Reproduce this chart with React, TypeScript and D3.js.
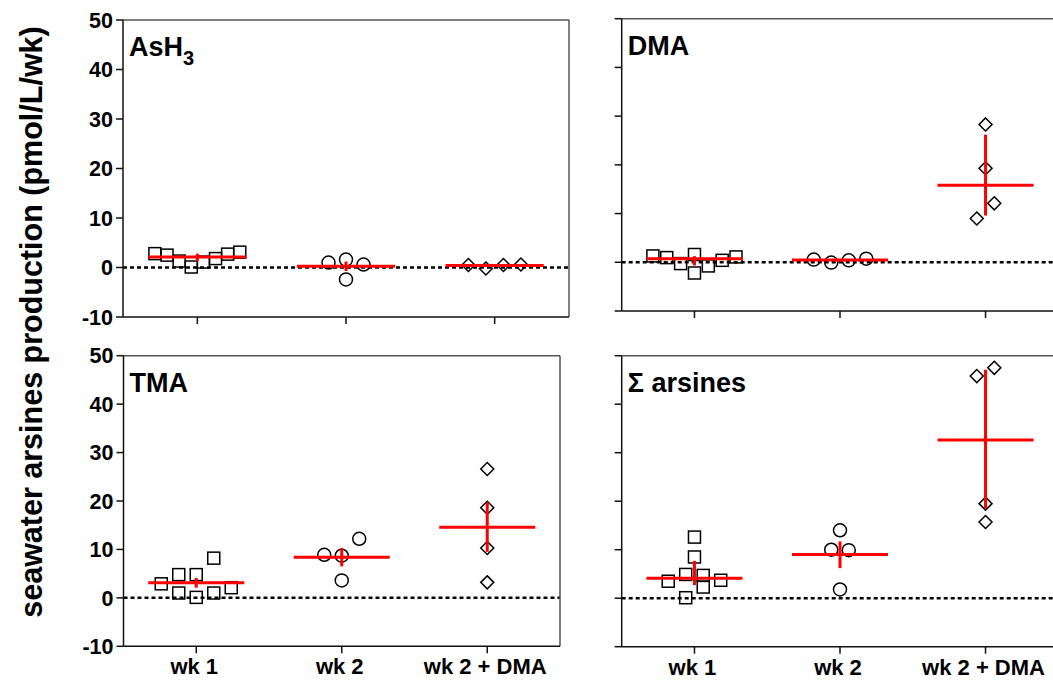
import React from 'react';
import * as d3 from 'd3';

// categories and axis ticks
const categories = ['wk 1', 'wk 2', 'wk 2 + DMA'];
const yTicks = [50, 40, 30, 20, 10, 0, -10];

// AsH3 panel
const ash3Wk1 = [2.8, 2.5, 1.3, 0.1, 1.1, 1.8, 2.7, 3.1];
const ash3Wk2 = [1.0, 1.6, -2.4, 0.6];
const ash3Wk2Dma = [0.5, -0.2, 0.5, 0.6];
const ash3Center = [2.1, 0.25, 0.4];
const ash3Low = [1.3, -0.7, 0.2];
const ash3High = [2.8, 1.2, 0.6];

// DMA panel
const dmaWk1 = [1.3, 0.96, -0.27, 1.6, -2.2, -0.75, 0.4, 1.1];
const dmaWk2 = [0.55, -0.07, 0.4, 0.75];
const dmaWk2Dma = [28.3, 19.3, 9.0, 12.1];
const dmaCenter = [0.7, 0.45, 15.8];
const dmaLow = [-0.65, 0.05, 9.6];
const dmaHigh = [1.25, 0.7, 26.2];

// TMA panel
const tmaWk1 = [2.9, 4.8, 1.0, 4.8, 0.1, 8.2, 1.0, 2.1];
const tmaWk2 = [8.9, 8.7, 12.2, 3.6];
const tmaWk2Dma = [26.6, 18.6, 10.3, 3.2];
const tmaCenter = [3.1, 8.4, 14.6];
const tmaLow = [2.1, 6.5, 9.5];
const tmaHigh = [4.1, 10.3, 19.7];

// sum of arsines panel
const sumWk1 = [3.5, 4.9, 0.1, 12.6, 8.5, 2.3, 4.7, 3.7];
const sumWk2 = [14.0, 10.0, 9.9, 1.8];
const sumWk2Dma = [45.8, 47.5, 19.5, 15.7];
const sumCenter = [4.1, 9.0, 32.6];
const sumLow = [2.7, 6.2, 18.5];
const sumHigh = [7.7, 11.7, 47.1];

const FONT = '"Liberation Sans", Arial, Helvetica, sans-serif';

const panels = [
  { title: 'AsH', sub: '3', groups: [ash3Wk1, ash3Wk2, ash3Wk2Dma], center: ash3Center, low: ash3Low, high: ash3High,
    x0: 123, x1: 569, y0: 20, y1: 317, yLabels: true, xLabels: false, frameRight: true },
  { title: 'DMA', sub: '', groups: [dmaWk1, dmaWk2, dmaWk2Dma], center: dmaCenter, low: dmaLow, high: dmaHigh,
    x0: 621.7, x1: 1058.3, y0: 18.7, y1: 311, yLabels: false, xLabels: false, frameRight: false },
  { title: 'TMA', sub: '', groups: [tmaWk1, tmaWk2, tmaWk2Dma], center: tmaCenter, low: tmaLow, high: tmaHigh,
    x0: 123.5, x1: 560, y0: 355.7, y1: 646.3, yLabels: true, xLabels: true, frameRight: true },
  { title: 'Σ arsines', sub: '', groups: [sumWk1, sumWk2, sumWk2Dma], center: sumCenter, low: sumLow, high: sumHigh,
    x0: 621.7, x1: 1058.3, y0: 355.7, y1: 646.7, yLabels: false, xLabels: true, frameRight: false },
];

// prism-like column scatter: rows of close values spread side by side
function swarm(values, y, cx) {
  const order = values.map((_, i) => i).sort((a, b) => values[a] - values[b]);
  const rows = [];
  let cur = [];
  let start = 0;
  for (const i of order) {
    const py = y(values[i]);
    if (cur.length && Math.abs(py - start) < 17.8) cur.push(i);
    else {
      if (cur.length) rows.push(cur);
      cur = [i];
      start = py;
    }
  }
  if (cur.length) rows.push(cur);
  const xs = new Array(values.length);
  rows.forEach(r => {
    r.sort((a, b) => a - b);
    const n = r.length;
    const step = Math.min(17.5, 97 / n);
    r.forEach((i, k) => { xs[i] = cx + (k - (n - 1) / 2) * step; });
  });
  return xs;
}

function Marker({ kind, x, y }) {
  const s = { fill: 'none', stroke: '#000', strokeWidth: 1.5 };
  if (kind === 0) return <rect x={x - 6} y={y - 6} width={12} height={12} {...s} />;
  if (kind === 1) return <circle cx={x} cy={y} r={6.5} {...s} />;
  return <path d={`M${x},${y - 6.5}L${x + 6.5},${y}L${x},${y + 6.5}L${x - 6.5},${y}Z`} {...s} />;
}

function Panel({ p }) {
  const y = d3.scaleLinear().domain([-10, 50]).range([p.y1, p.y0]);
  const x = d3.scaleLinear().domain([0.5, 3.5]).range([p.x0, p.x1]);
  const step = x(2) - x(1);
  const axisColor = '#111';
  const frameColor = '#555';
  return (
    <g>
      {/* zero reference */}
      <line x1={p.x0} x2={p.x1} y1={y(0)} y2={y(0)} stroke="#000" strokeWidth={2.5} strokeDasharray="4,3" />

      {p.groups.map((vals, gi) => {
        const cx = x(gi + 1);
        const xs = swarm(vals, y, cx);
        return (
          <g key={gi}>
            {vals.map((v, i) => <Marker key={i} kind={gi} x={xs[i]} y={y(v)} />)}
          </g>
        );
      })}

      {p.groups.map((_, gi) => {
        const cx = x(gi + 1);
        return (
          <g key={'s' + gi} stroke="#ff0000" strokeWidth={3}>
            <line x1={cx - step * 0.33} x2={cx + step * 0.33} y1={y(p.center[gi])} y2={y(p.center[gi])} />
            <line x1={cx} x2={cx} y1={y(p.low[gi])} y2={y(p.high[gi])} />
          </g>
        );
      })}

      {/* frame */}
      <line x1={p.x0} x2={p.x1} y1={p.y0} y2={p.y0} stroke={frameColor} strokeWidth={1.5} />
      {p.frameRight && <line x1={p.x1} x2={p.x1} y1={p.y0} y2={p.y1} stroke={frameColor} strokeWidth={1.5} />}

      {/* axes */}
      <line x1={p.x0} x2={p.x0} y1={p.y0} y2={p.y1} stroke={axisColor} strokeWidth={1.5} />
      <line x1={p.x0} x2={p.x1} y1={p.y1} y2={p.y1} stroke={axisColor} strokeWidth={1.5} />
      {yTicks.map(t => (
        <g key={t}>
          <line x1={p.x0 - 7} x2={p.x0} y1={y(t)} y2={y(t)} stroke={axisColor} strokeWidth={1.5} />
          {p.yLabels && (
            <text x={p.x0 - 10} y={y(t)} dy="0.36em" textAnchor="end" fontSize={21.5} fontWeight="bold" fontFamily={FONT}>{t}</text>
          )}
        </g>
      ))}
      {categories.map((c, i) => (
        <g key={c}>
          <line x1={x(i + 1)} x2={x(i + 1)} y1={p.y1} y2={p.y1 + 7} stroke={axisColor} strokeWidth={1.5} />
          {p.xLabels && (
            <text x={x(i + 1) - 2} y={p.y1 + 28} textAnchor="middle" fontSize={22} fontWeight="bold" fontFamily={FONT}>{c}</text>
          )}
        </g>
      ))}

      <text x={p.x0 + 6} y={p.y0 + 36} fontSize={27} fontWeight="bold" fontFamily={FONT}>
        {p.title}
        {p.sub && <tspan dy={9} fontSize={20}>{p.sub}</tspan>}
      </text>
    </g>
  );
}

export default function App() {
  return (
    <svg width={1053} height={680} style={{ position: 'absolute', left: 0, top: 0, background: '#fff' }}>
      <rect width={1053} height={680} fill="#fff" />
      {panels.map((p, i) => <Panel key={i} p={p} />)}
      <text transform="translate(42,322) rotate(-90)" textAnchor="middle" fontSize={30.5} fontWeight="bold" fontFamily={FONT}>
        seawater arsines production (pmol/L/wk)
      </text>
    </svg>
  );
}
